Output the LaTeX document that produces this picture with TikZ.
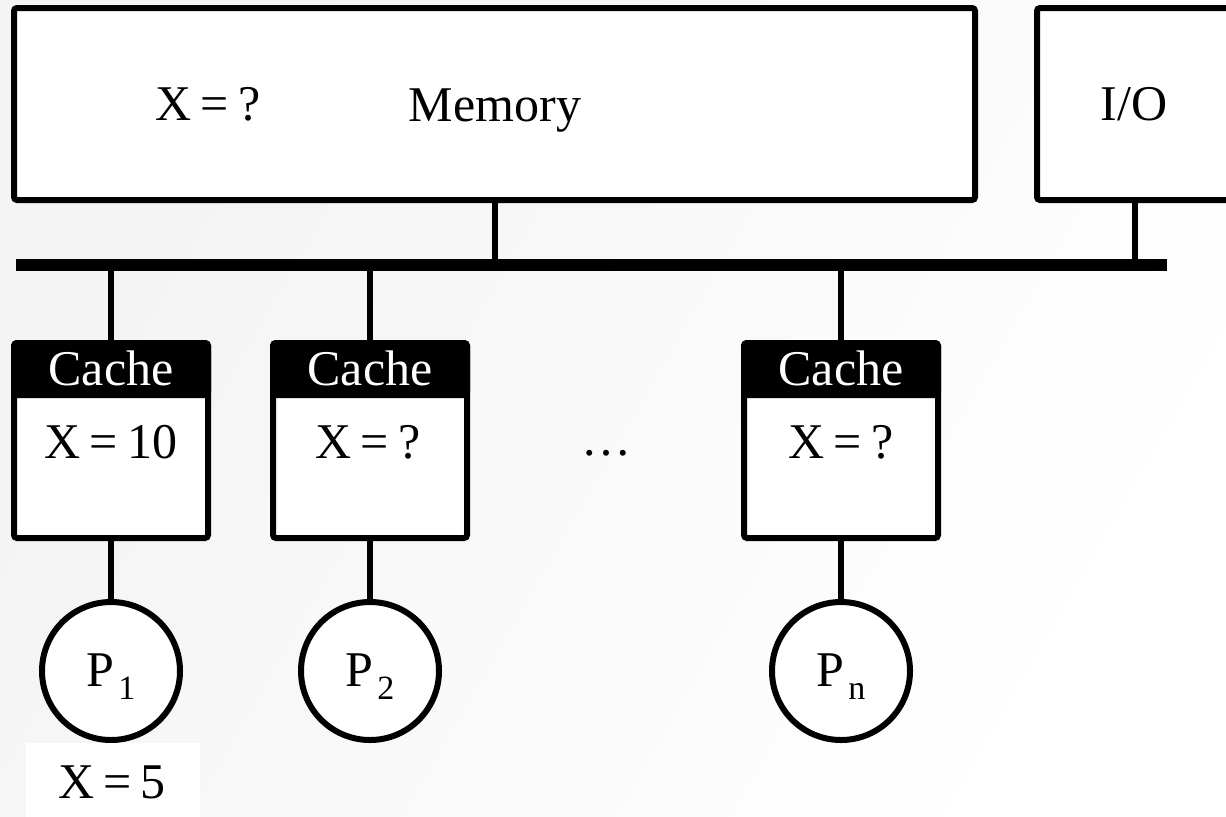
\documentclass[tikz,border=0pt]{standalone}
\usepackage{fontspec}
\setmainfont{Liberation Serif}
\newcommand{\sub}[1]{\kern2pt\raisebox{-6.5pt}{\fontsize{17}{17}\selectfont #1}}
\newcommand{\xeq}[1]{X\kern4.5pt=\kern4.5pt#1}
\begin{document}
\begin{tikzpicture}[x=0.5pt,y=-0.5pt,
  every node/.style={font=\fontsize{25}{30}\selectfont, inner sep=0pt},
  lbl/.style={anchor=base},
  wire/.style={line width=3pt},
  bigbox/.style={draw, line width=3pt, fill=white, rounded corners=1.5pt, minimum height=96pt},
  cachebox/.style={draw, line width=3pt, fill=white, rounded corners=1.5pt, minimum width=97pt, minimum height=97.5pt},
  cachehead/.style={draw, line width=3pt, fill=black, rounded corners=1.5pt, minimum width=97pt, minimum height=26pt, anchor=north},
  proc/.style={draw, line width=3pt, fill=white, circle, minimum size=69pt},
  bus/.style={line width=6pt}]
\useasboundingbox (0,0) rectangle (1226,816);
\clip (0,0) rectangle (1226,816);
\shade[left color=gray!9, right color=white, shading angle=60] (0,0) rectangle (1226,816);
% memory and I/O
\node[bigbox, minimum width=480.5pt] (mem) at (494.5,104) {};
\node[lbl] (memlbl) at (495,121) {Memory};
\node[lbl] (memx) at (208,120) {\xeq{?}};
\node[bigbox, minimum width=100pt] (io) at (1137,104) {};
\node[lbl] (iolbl) at (1134,120) {I/O};
% bus
\coordinate (busL) at (16,265);
\coordinate (busR) at (1167,265);
\draw[bus] (busL) -- (busR);
\draw[wire] (mem.south) -- (mem.south |- busL);
\draw[wire] ([xshift=-1pt]io.south) -- ([xshift=-1pt]io.south |- busL);
% caches
\node[cachebox] (c1) at (111,440.5) {};
\node[cachebox] (c2) at (370,440.5) {};
\node[cachebox] (c3) at (841,440.5) {};
\node[cachehead] (h1) at (c1.north) {};
\node[cachehead] (h2) at (c2.north) {};
\node[cachehead] (h3) at (c3.north) {};
\node[lbl, text=white] (t1) at (111,385) {Cache};
\node[lbl, text=white] (t2) at (370,385) {Cache};
\node[lbl, text=white] (t3) at (841,385) {Cache};
\node[lbl] (x1) at (111,458) {\xeq{10}};
\node[lbl] (x2) at (368,458) {\xeq{?}};
\node[lbl] (x3) at (841,458) {\xeq{?}};
\node[lbl] (dots) at (606,455) {\dots};
\draw[wire] (h1.north |- busL) -- (h1.north);
\draw[wire] (h2.north |- busL) -- (h2.north);
\draw[wire] (h3.north |- busL) -- (h3.north);
% processors
\node[proc] (p1) at (111,671) {};
\node[proc] (p2) at (370,671) {};
\node[proc] (p3) at (841,671) {};
\node[lbl] (q1) at (111,686) {P\sub{1}};
\node[lbl] (q2) at (370,686) {P\sub{2}};
\node[lbl] (q3) at (841,686) {P\sub{n}};
\draw[wire] (c1.south) -- (p1.north);
\draw[wire] (c2.south) -- (p2.north);
\draw[wire] (c3.south) -- (p3.north);
% local value
\node[fill=white, minimum width=87pt, minimum height=40pt] (x5box) at (113,783) {};
\node[lbl] (x5) at (112,798) {\xeq{5}};
\end{tikzpicture}
\end{document}
